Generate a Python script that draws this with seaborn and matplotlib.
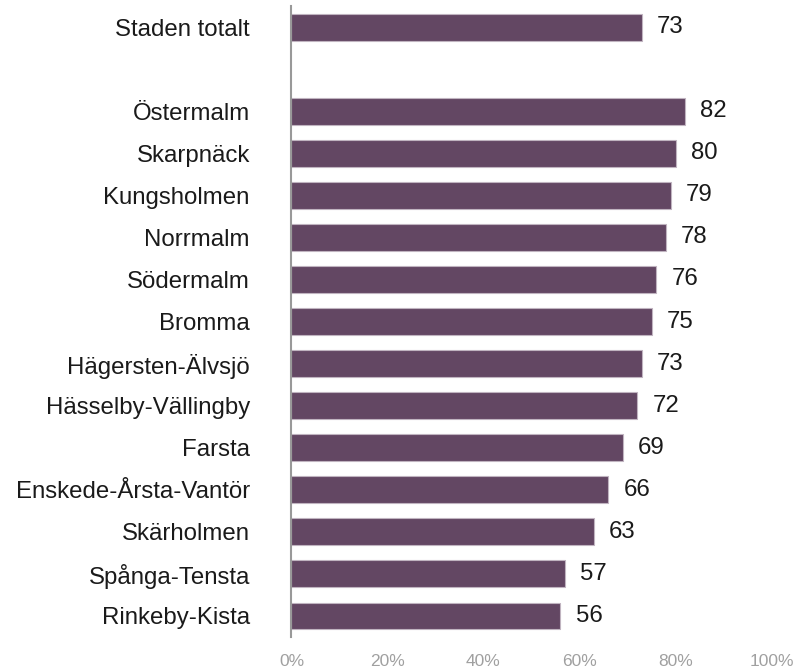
import matplotlib
matplotlib.use("Agg")
import matplotlib.pyplot as plt
import seaborn as sns
import numpy as np
import pandas as pd

categories = ["Staden totalt", "", "Östermalm", "Skarpnäck", "Kungsholmen", "Norrmalm",
              "Södermalm", "Bromma", "Hägersten-Älvsjö", "Hässelby-Vällingby", "Farsta",
              "Enskede-Årsta-Vantör", "Skärholmen", "Spånga-Tensta", "Rinkeby-Kista"]
values = [73, np.nan, 82, 80, 79, 78, 76, 75, 73, 72, 69, 66, 63, 57, 56]
xticks = [0, 20, 40, 60, 80, 100]
xticklabels = ["0%", "20%", "40%", "60%", "80%", "100%"]

sns.set_theme(style="white")
plt.rcParams['font.family'] = ['Liberation Sans', 'DejaVu Sans']

df = pd.DataFrame({"cat": categories, "val": values})

fig = plt.figure(figsize=(7.99, 6.68), dpi=100)
ax = fig.add_axes([0.3648, 0.0464, 0.6008, 0.9446])

sns.barplot(data=df.dropna(), x="val", y="cat", order=categories, orient="h",
            color="#634763", saturation=1, width=0.64, edgecolor="#c0b4c0",
            linewidth=0.8, ax=ax)

for c in ax.containers:
    ax.bar_label(c, labels=[f"{v:.0f}" for v in c.datavalues], padding=11,
                 fontsize=17.3, color="#1a1a1a")

ax.set_xlim(0, 100)
ax.set_ylim(14.5, -0.5)
ax.set_xticks(xticks)
ax.set_xticklabels(xticklabels, color="#a0a0a0", fontsize=12.5)
ax.set_xlabel("")
ax.set_ylabel("")
ax.tick_params(axis="y", labelsize=17.3, colors="#1a1a1a", length=0, pad=30)
ax.tick_params(axis="x", length=0, pad=12)
for s in ["top", "right", "bottom"]:
    ax.spines[s].set_visible(False)
ax.spines["left"].set_color("#999999")
ax.spines["left"].set_linewidth(1.5)

fig.savefig("out.png", dpi=100)
